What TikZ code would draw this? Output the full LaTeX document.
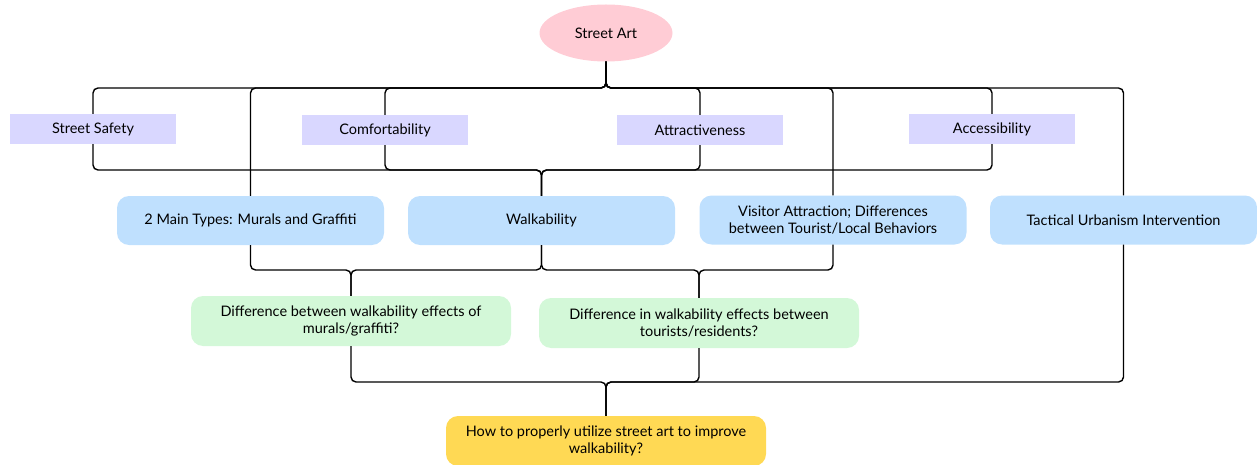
\documentclass[tikz,border=0pt]{standalone}
\usepackage{fontspec}
\setmainfont{Lato}
\usepackage{tikz}
\usetikzlibrary{shapes.geometric, positioning, calc}
\definecolor{artpink}{RGB}{255, 204, 213}
\definecolor{factorpurple}{RGB}{217, 215, 255}
\definecolor{topicblue}{RGB}{191, 224, 254}
\definecolor{questgreen}{RGB}{211, 248, 216}
\definecolor{goalyellow}{RGB}{255, 217, 84}

\begin{document}
\begin{tikzpicture}[x=1pt, y=-1pt,
    root/.style={ellipse, fill=artpink, minimum width=133pt, minimum height=57pt, font=\fontsize{14.5}{17}\selectfont},
    factor/.style={rectangle, fill=factorpurple, minimum width=166pt, minimum height=30pt, font=\fontsize{14.5}{17}\selectfont},
    topic/.style={rectangle, rounded corners=12pt, fill=topicblue, minimum width=267pt, minimum height=49pt, align=center, font=\fontsize{14.5}{17}\selectfont},
    question/.style={rectangle, rounded corners=12pt, fill=questgreen, minimum width=320pt, minimum height=50pt, align=center, font=\fontsize{14.5}{17}\selectfont},
    goal/.style={question, fill=goalyellow},
    link/.style={draw=black, line width=1.4pt, rounded corners=5pt}
]
    \useasboundingbox (0,0) rectangle (1257,465);

    \node[root] (art) at (606,33) {Street Art};

    \node[factor] (safety) at (93,129) {Street Safety};
    \node[factor] (comfort) at (385,130) {Comfortability};
    \node[factor] (attract) at (700,130) {Attractiveness};
    \node[factor] (access) at (992,129) {Accessibility};

    \node[topic] (types) at (250.5,220.5) {2 Main Types: Murals and Graffiti};
    \node[topic] (walk) at (541.5,220.5) {Walkability};
    \node[topic] (visitor) at (833,220) {Visitor Attraction; Differences\\between Tourist/Local Behaviors};
    \node[topic] (tactical) at (1123.5,220) {Tactical Urbanism Intervention};

    \node[question] (murals) at (351,321) {Difference between walkability effects of\\murals/graffiti?};
    \node[question] (tourists) at (699,323) {Difference in walkability effects between\\tourists/residents?};

    \node[goal] (utilize) at (606,441) {How to properly utilize street art to improve\\walkability?};

    \coordinate (busA) at (0,88);
    \coordinate (busB) at (0,170);
    \coordinate (busC) at (0,270);
    \coordinate (busD) at (0,382);

    \draw[link] (art) -- (art |- busA) -| (safety);
    \draw[link] (art) -- (art |- busA) -| (types);
    \draw[link] (art) -- (art |- busA) -| (comfort);
    \draw[link] (art) -- (art |- busA) -| (attract);
    \draw[link] (art) -- (art |- busA) -| (visitor);
    \draw[link] (art) -- (art |- busA) -| (access);
    \draw[link] (art) -- (art |- busA) -| (tactical);

    \draw[link] (safety) -- (safety |- busB) -| (walk);
    \draw[link] (comfort) -- (comfort |- busB) -| (walk);
    \draw[link] (attract) -- (attract |- busB) -| (walk);
    \draw[link] (access) -- (access |- busB) -| (walk);

    \draw[link] (types) -- (types |- busC) -| (murals);
    \draw[link] (walk) -- (walk |- busC) -| (murals);
    \draw[link] (walk) -- (walk |- busC) -| (tourists);
    \draw[link] (visitor) -- (visitor |- busC) -| (tourists);

    \draw[link] (murals) -- (murals |- busD) -| (utilize);
    \draw[link] (tourists) -- (tourists |- busD) -| (utilize);
    \draw[link] (tactical) -- (tactical |- busD) -| (utilize);
\end{tikzpicture}
\end{document}
